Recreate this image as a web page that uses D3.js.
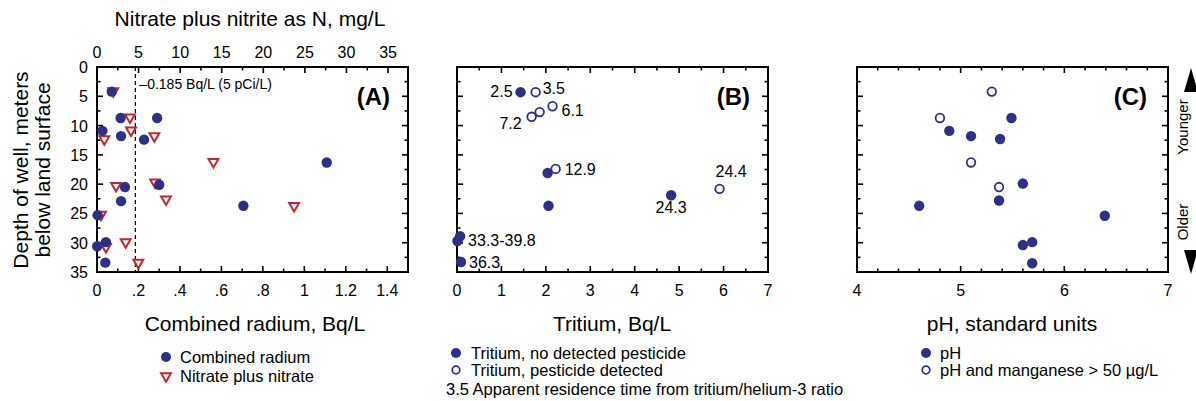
<!DOCTYPE html>
<html>
<head>
<meta charset="utf-8">
<script src="https://cdn.jsdelivr.net/npm/d3@7"></script>
<style>
  body { margin: 0; background: #fff; }
  svg { font-family: "Liberation Sans", Arial, sans-serif; }
</style>
</head>
<body>
<script>
// ---- data (depth in meters) ----
var radiumVal   = [0.071, 0.114, 0.29, 0.026, 0.116, 0.227, 1.108, 0.135, 0.30, 0.116, 0.706, 0.003, 0.043, 0.001, 0.04];
var radiumDepth = [4.2, 8.7, 8.7, 10.9, 11.8, 12.4, 16.3, 20.5, 20.1, 22.9, 23.7, 25.3, 29.9, 30.6, 33.4];

var nitrateVal   = [1.96, 3.97, 4.09, 0.88, 6.9, 14.0, 2.29, 6.98, 8.3, 23.7, 0.48, 3.45, 1.08, 4.97];
var nitrateDepth = [4.1, 8.6, 10.8, 12.3, 11.8, 16.2, 20.3, 19.7, 22.6, 23.7, 25.2, 29.9, 30.7, 33.4];

var tritiumVal   = [1.43, 1.77, 2.15, 1.68, 1.86, 2.04, 2.22, 2.06, 4.82, 5.91, 0.01, 0.07, 0.09];
var tritiumDepth = [4.3, 4.3, 6.7, 8.5, 7.7, 18.1, 17.4, 23.7, 21.9, 20.8, 29.7, 28.9, 33.3];
var tritiumPest  = [false, true, true, true, true, false, true, false, false, true, false, false, false];

var phVal   = [5.30, 4.80, 5.10, 5.37, 5.49, 4.89, 5.10, 5.38, 5.60, 5.37, 4.60, 6.39, 5.69, 5.60, 5.69];
var phDepth = [4.2, 8.7, 16.3, 20.5, 8.7, 10.9, 11.8, 12.3, 19.9, 22.8, 23.7, 25.4, 29.9, 30.4, 33.5];
var phMn    = [true, true, true, true, false, false, false, false, false, false, false, false, false, false, false];

// residence-time labels in panel B
var ageText = ["2.5", "3.5", "6.1", "7.2", "12.9", "24.4", "24.3", "33.3-39.8", "36.3"];
var ageX    = [1.43, 1.77, 2.15, 1.68, 2.22, 5.91, 4.82, 0.07, 0.09];
var ageY    = [4.3, 4.3, 6.7, 8.5, 17.4, 20.8, 21.9, 28.9, 33.3];
var ageDx   = [-8, 7, 9, -10, 9, -4, 0, 8, 8];
var ageDy   = [5, 2, 10, 12, 6, -12, 18, 10, 6];
var ageAnchor = ["end", "start", "start", "end", "start", "start", "middle", "start", "start"];

var depthTicks = [0, 5, 10, 15, 20, 25, 30, 35];
var radTicks   = [0, 0.2, 0.4, 0.6, 0.8, 1, 1.2, 1.4];
var radLabels  = ["0", ".2", ".4", ".6", ".8", "1", "1.2", "1.4"];
var nitTicks   = [0, 5, 10, 15, 20, 25, 30, 35];
var triTicks   = [0, 1, 2, 3, 4, 5, 6, 7];
var phTicks    = [4, 5, 6, 7];

var navy = "#2e2f87", red = "#c1272d";

var svg = d3.select("body").append("svg").attr("width", 1196).attr("height", 401);

var plotTop = 67, plotBottom = 272;
var y = d3.scaleLinear().domain([0, 35]).range([plotTop, plotBottom]);

var xA  = d3.scaleLinear().domain([0, 1.5]).range([97, 408]);
var xAt = d3.scaleLinear().domain([0, 37.4]).range([97, 408]);
var xB  = d3.scaleLinear().domain([0, 7]).range([457, 768]);
var xC  = d3.scaleLinear().domain([4, 7]).range([857, 1168]);

// inward ticks on one side
function ticks(vals, scale, side, len, x0, x1) {
  var g = svg.append("g");
  vals.forEach(function(v) {
    var p = scale(v);
    if (side == "bottom") g.append("line").attr("x1", p).attr("x2", p).attr("y1", plotBottom).attr("y2", plotBottom - len);
    if (side == "top") g.append("line").attr("x1", p).attr("x2", p).attr("y1", plotTop).attr("y2", plotTop + len);
    if (side == "left") g.append("line").attr("x1", x0).attr("x2", x0 + len).attr("y1", p).attr("y2", p);
    if (side == "right") g.append("line").attr("x1", x1).attr("x2", x1 - len).attr("y1", p).attr("y2", p);
  });
  g.selectAll("line").attr("stroke", "#000").attr("stroke-width", 1.6);
}

function frame(x0, x1) {
  svg.append("rect").attr("x", x0).attr("y", plotTop).attr("width", x1 - x0).attr("height", plotBottom - plotTop)
    .attr("fill", "none").attr("stroke", "#000").attr("stroke-width", 2);
  ticks(d3.range(0, 35.1, 5), y, "left", 6, x0, x1);
  ticks(d3.range(2.5, 35, 5), y, "left", 3.5, x0, x1);
  ticks(d3.range(0, 35.1, 5), y, "right", 6, x0, x1);
  ticks(d3.range(2.5, 35, 5), y, "right", 3.5, x0, x1);
}

function labels(vals, txt, scale, yy) {
  svg.append("g").selectAll("text").data(vals).enter().append("text")
    .attr("x", function(d) { return scale(d); }).attr("y", yy)
    .attr("text-anchor", "middle").attr("font-size", 16)
    .text(function(d, i) { return txt ? txt[i] : d; });
}

// ---- panel A ----
frame(97, 408);
ticks(d3.range(0, 1.45, 0.2), xA, "bottom", 6);
ticks(d3.range(0.1, 1.5, 0.2), xA, "bottom", 3.5);
ticks(d3.range(0, 37, 5), xAt, "top", 6);
ticks(d3.range(2.5, 37.4, 5), xAt, "top", 3.5);
labels(radTicks, radLabels, xA, 296);
labels(nitTicks, null, xAt, 58);
svg.append("g").selectAll("text").data(depthTicks).enter().append("text")
  .attr("x", 88).attr("y", function(d) { return y(d) + 6; })
  .attr("text-anchor", "end").attr("font-size", 16).text(function(d) { return d; });

svg.append("line").attr("x1", xA(0.185)).attr("x2", xA(0.185)).attr("y1", plotTop).attr("y2", plotBottom)
  .attr("stroke", "#000").attr("stroke-width", 1.2).attr("stroke-dasharray", "4,3");
svg.append("text").attr("x", xA(0.185) + 4).attr("y", 89).attr("font-size", 14).text("\u20130.185 Bq/L (5 pCi/L)");

var tri = d3.symbol().type(d3.symbolTriangle).size(42);
svg.append("g").selectAll("path").data(nitrateVal).enter().append("path")
  .attr("d", tri)
  .attr("transform", function(d, i) { return "translate(" + xAt(d) + "," + y(nitrateDepth[i]) + ") rotate(180)"; })
  .attr("fill", "#fff").attr("stroke", red).attr("stroke-width", 2);
svg.append("g").selectAll("circle").data(radiumVal).enter().append("circle")
  .attr("cx", function(d) { return xA(d); }).attr("cy", function(d, i) { return y(radiumDepth[i]); })
  .attr("r", 5.2).attr("fill", navy);

svg.append("text").attr("x", 390).attr("y", 105).attr("text-anchor", "end")
  .attr("font-size", 24).attr("font-weight", "bold").text("(A)");

// ---- panel B ----
frame(457, 768);
ticks(triTicks, xB, "bottom", 6);
ticks(d3.range(0.5, 7, 1), xB, "bottom", 3.5);
ticks(triTicks, xB, "top", 6);
ticks(d3.range(0.5, 7, 1), xB, "top", 3.5);
labels(triTicks, null, xB, 296);

svg.append("g").selectAll("circle").data(tritiumVal).enter().append("circle")
  .attr("cx", function(d) { return xB(d); }).attr("cy", function(d, i) { return y(tritiumDepth[i]); })
  .attr("r", function(d, i) { return tritiumPest[i] ? 4.3 : 5.2; })
  .attr("fill", function(d, i) { return tritiumPest[i] ? "#fff" : navy; })
  .attr("stroke", navy).attr("stroke-width", function(d, i) { return tritiumPest[i] ? 1.8 : 0; });

svg.append("g").selectAll("text").data(ageText).enter().append("text")
  .attr("x", function(d, i) { return xB(ageX[i]) + ageDx[i]; })
  .attr("y", function(d, i) { return y(ageY[i]) + ageDy[i]; })
  .attr("text-anchor", function(d, i) { return ageAnchor[i]; })
  .attr("font-size", 16).text(function(d) { return d; });

svg.append("text").attr("x", 750).attr("y", 105).attr("text-anchor", "end")
  .attr("font-size", 24).attr("font-weight", "bold").text("(B)");

// ---- panel C ----
var phMinor = d3.range(4.2, 7, 0.2).filter(function(v) { return Math.abs(v - Math.round(v)) > 0.05; });
frame(857, 1168);
ticks(phTicks, xC, "bottom", 6);
ticks(phMinor, xC, "bottom", 3.5);
ticks(phTicks, xC, "top", 6);
ticks(phMinor, xC, "top", 3.5);
labels(phTicks, null, xC, 296);

svg.append("g").selectAll("circle").data(phVal).enter().append("circle")
  .attr("cx", function(d) { return xC(d); }).attr("cy", function(d, i) { return y(phDepth[i]); })
  .attr("r", function(d, i) { return phMn[i] ? 4.3 : 5.2; })
  .attr("fill", function(d, i) { return phMn[i] ? "#fff" : navy; })
  .attr("stroke", navy).attr("stroke-width", function(d, i) { return phMn[i] ? 1.8 : 0; });

svg.append("text").attr("x", 1147).attr("y", 105).attr("text-anchor", "end")
  .attr("font-size", 24).attr("font-weight", "bold").text("(C)");

// younger / older arrow at right edge
svg.append("path").attr("d", "M1184,92 L1198,92 L1191,68 Z").attr("fill", "#000");
svg.append("path").attr("d", "M1184,250 L1198,250 L1191,274 Z").attr("fill", "#000");
svg.append("text").attr("transform", "translate(1188,127) rotate(-90)").attr("text-anchor", "middle")
  .attr("font-size", 15).text("Younger");
svg.append("text").attr("transform", "translate(1188,222) rotate(-90)").attr("text-anchor", "middle")
  .attr("font-size", 15).text("Older");

// ---- axis titles ----
svg.append("text").attr("x", 250).attr("y", 26).attr("text-anchor", "middle").attr("font-size", 21)
  .text("Nitrate plus nitrite as N, mg/L");
svg.append("text").attr("transform", "translate(28,170) rotate(-90)").attr("text-anchor", "middle")
  .attr("font-size", 21).text("Depth of well, meters");
svg.append("text").attr("transform", "translate(50,170) rotate(-90)").attr("text-anchor", "middle")
  .attr("font-size", 21).text("below land surface");
svg.append("text").attr("x", 255).attr("y", 331).attr("text-anchor", "middle").attr("font-size", 21)
  .text("Combined radium, Bq/L");
svg.append("text").attr("x", 612).attr("y", 331).attr("text-anchor", "middle").attr("font-size", 21)
  .text("Tritium, Bq/L");
svg.append("text").attr("x", 1012).attr("y", 331).attr("text-anchor", "middle").attr("font-size", 21)
  .text("pH, standard units");

// ---- legends ----
function legendDot(cx, cy, open) {
  svg.append("circle").attr("cx", cx).attr("cy", cy).attr("r", open ? 3.8 : 5)
    .attr("fill", open ? "#fff" : navy).attr("stroke", navy).attr("stroke-width", open ? 1.8 : 0);
}
function legendText(x, yy, t) {
  svg.append("text").attr("x", x).attr("y", yy).attr("font-size", 16.5).text(t);
}
legendDot(166, 357, false);
legendText(180, 363, "Combined radium");
svg.append("path").attr("d", tri).attr("transform", "translate(166,376) rotate(180)")
  .attr("fill", "#fff").attr("stroke", red).attr("stroke-width", 2);
legendText(180, 382, "Nitrate plus nitrate");

legendDot(456, 353, false);
legendText(471, 359, "Tritium, no detected pesticide");
legendDot(456, 370, true);
legendText(471, 376, "Tritium, pesticide detected");
legendText(446, 395, "3.5 Apparent residence time from tritium/helium-3 ratio");

legendDot(926, 353, false);
legendText(940, 359, "pH");
legendDot(926, 370, true);
legendText(940, 376, "pH and manganese > 50 \u00b5g/L");
</script>
</body>
</html>
